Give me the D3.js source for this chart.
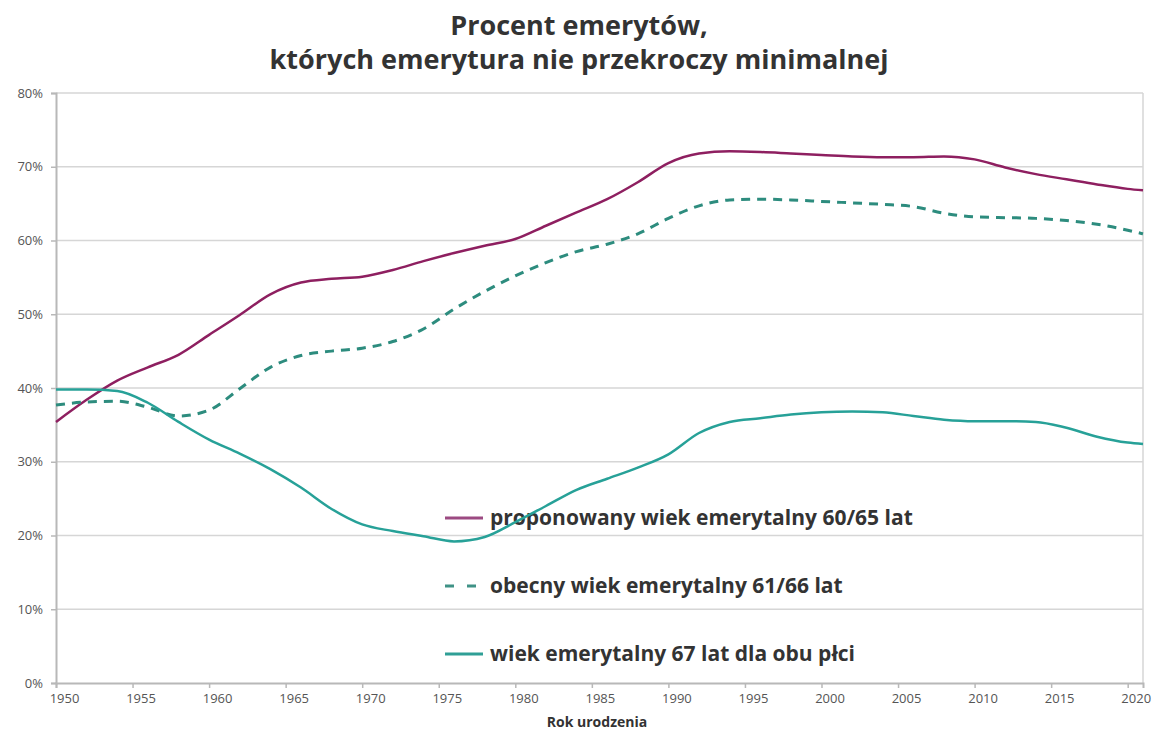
<!DOCTYPE html>
<html>
<head>
<meta charset="utf-8">
<script src="https://cdn.jsdelivr.net/npm/d3@7"></script>
<style>
  body { margin: 0; background: #fff; }
  svg { display: block; }
</style>
</head>
<body>
<div id="chart"></div>
<script>
// data (percent of pensioners)
const years = [1950, 1952, 1954, 1956, 1958, 1960, 1962, 1964, 1966, 1968, 1970, 1972, 1974, 1976, 1978,
  1980, 1982, 1984, 1986, 1988, 1990, 1992, 1994, 1996, 1998, 2000, 2002, 2004, 2006, 2008, 2010,
  2012, 2014, 2016, 2018, 2020, 2021];
const proposed = [35.4, 38.4, 41.0, 42.8, 44.5, 47.2, 49.9, 52.7, 54.3, 54.8, 55.1, 56.0, 57.2, 58.3, 59.3,
  60.2, 62.0, 63.8, 65.6, 67.9, 70.5, 71.8, 72.1, 72.0, 71.8, 71.6, 71.4, 71.3, 71.3, 71.4, 71.0,
  69.9, 69.0, 68.3, 67.6, 67.0, 66.8];
const current = [37.7, 38.1, 38.2, 37.4, 36.2, 37.0, 39.9, 42.8, 44.4, 45.0, 45.4, 46.3, 48.0, 50.7, 53.1,
  55.2, 57.0, 58.5, 59.5, 60.9, 63.0, 64.7, 65.5, 65.6, 65.5, 65.3, 65.1, 64.9, 64.6, 63.7, 63.2,
  63.1, 63.0, 62.7, 62.2, 61.4, 60.9];
const age67 = [39.8, 39.8, 39.6, 38.0, 35.4, 33.0, 31.1, 29.0, 26.5, 23.6, 21.5, 20.6, 19.9, 19.2, 19.8,
  21.8, 24.0, 26.2, 27.7, 29.2, 31.0, 33.9, 35.4, 35.9, 36.4, 36.7, 36.8, 36.7, 36.2, 35.7, 35.5,
  35.5, 35.4, 34.6, 33.4, 32.6, 32.4];

const xTicks = d3.range(1950, 2021, 5);
const yTicks = [0, 10, 20, 30, 40, 50, 60, 70, 80];
const seriesNames = [
  'proponowany wiek emerytalny 60/65 lat',
  'obecny wiek emerytalny 61/66 lat',
  'wiek emerytalny 67 lat dla obu płci'
];
const titleLines = ['Procent emerytów,', 'których emerytura nie przekroczy minimalnej'];
const xTitle = 'Rok urodzenia';

const width = 1155;
const height = 733;
const plotLeft = 56, plotRight = 1143, plotTop = 93, plotBottom = 683;
const font = '"Open Sans", "DejaVu Sans", sans-serif';

const svg = d3.select('#chart')
  .append('svg')
  .attr('width', width)
  .attr('height', height);

const x = d3.scaleLinear().domain([1950, 2021]).range([plotLeft, plotRight]);
const y = d3.scaleLinear().domain([0, 80]).range([plotBottom, plotTop]);

// title
svg.append('g')
  .selectAll('text')
  .data(titleLines)
  .enter().append('text')
  .attr('x', 579)
  .attr('y', (d, i) => 35 + i * 34)
  .attr('text-anchor', 'middle')
  .style('font-family', font)
  .style('font-size', '27px')
  .style('font-weight', 700)
  .style('fill', '#333')
  .text(d => d);

// horizontal gridlines
svg.append('g')
  .selectAll('line')
  .data(yTicks.filter(v => v > 0))
  .enter().append('line')
  .attr('x1', plotLeft)
  .attr('x2', plotRight)
  .attr('y1', d => y(d))
  .attr('y2', d => y(d))
  .attr('stroke', '#d6d6d6')
  .attr('stroke-width', 1.5);

// right border
svg.append('line')
  .attr('x1', plotRight).attr('x2', plotRight)
  .attr('y1', plotTop).attr('y2', plotBottom)
  .attr('stroke', '#d6d6d6')
  .attr('stroke-width', 1.5);

// y axis
const yAxis = svg.append('g')
  .attr('transform', `translate(${plotLeft},0)`)
  .call(d3.axisLeft(y).tickValues(yTicks).tickSize(5).tickPadding(8).tickFormat(d => d + '%'));

// x axis
const xAxis = svg.append('g')
  .attr('transform', `translate(0,${plotBottom})`)
  .call(d3.axisBottom(x).tickValues(xTicks).tickSize(5).tickPadding(6).tickFormat(d3.format('d')));

[yAxis, xAxis].forEach(g => {
  g.select('.domain').attr('stroke', '#b8b8b8').attr('stroke-width', 2);
  g.selectAll('.tick line').attr('stroke', '#b8b8b8').attr('stroke-width', 1.5);
  g.selectAll('.tick text')
    .style('font-family', font)
    .style('font-size', '13px')
    .style('fill', '#555');
});
xAxis.selectAll('.tick text').attr('dx', 8);

svg.append('text')
  .attr('x', 597)
  .attr('y', 727)
  .attr('text-anchor', 'middle')
  .style('font-family', font)
  .style('font-size', '14px')
  .style('font-weight', 700)
  .style('fill', '#333')
  .text(xTitle);

// series
const series = [
  { name: seriesNames[0], values: proposed, color: '#8e1f60', dash: null, legendColor: '#9c4a82' },
  { name: seriesNames[1], values: current, color: '#2d8c7e', dash: '9,7', legendColor: '#3f9286' },
  { name: seriesNames[2], values: age67, color: '#27a198', dash: null, legendColor: '#2f9f96' }
];

// legend
const legend = svg.append('g');
const legendY = [518, 586, 654];
series.forEach((s, i) => {
  legend.append('line')
    .attr('x1', 445).attr('x2', 483)
    .attr('y1', legendY[i]).attr('y2', legendY[i])
    .attr('stroke', s.legendColor)
    .attr('stroke-width', 3)
    .attr('stroke-dasharray', s.dash ? '9,13' : null);
  legend.append('text')
    .attr('x', 490)
    .attr('y', legendY[i])
    .attr('dy', '0.35em')
    .style('font-family', font)
    .style('font-size', '21px')
    .style('font-weight', 700)
    .style('fill', '#333')
    .text(s.name);
});

const line = d3.line()
  .x((d, i) => x(years[i]))
  .y(d => y(d))
  .curve(d3.curveMonotoneX);

svg.append('g')
  .selectAll('path')
  .data(series)
  .enter().append('path')
  .attr('d', d => line(d.values))
  .attr('fill', 'none')
  .attr('stroke', d => d.color)
  .attr('stroke-width', d => d.dash ? 3 : 2.5)
  .attr('stroke-dasharray', d => d.dash);
</script>
</body>
</html>
